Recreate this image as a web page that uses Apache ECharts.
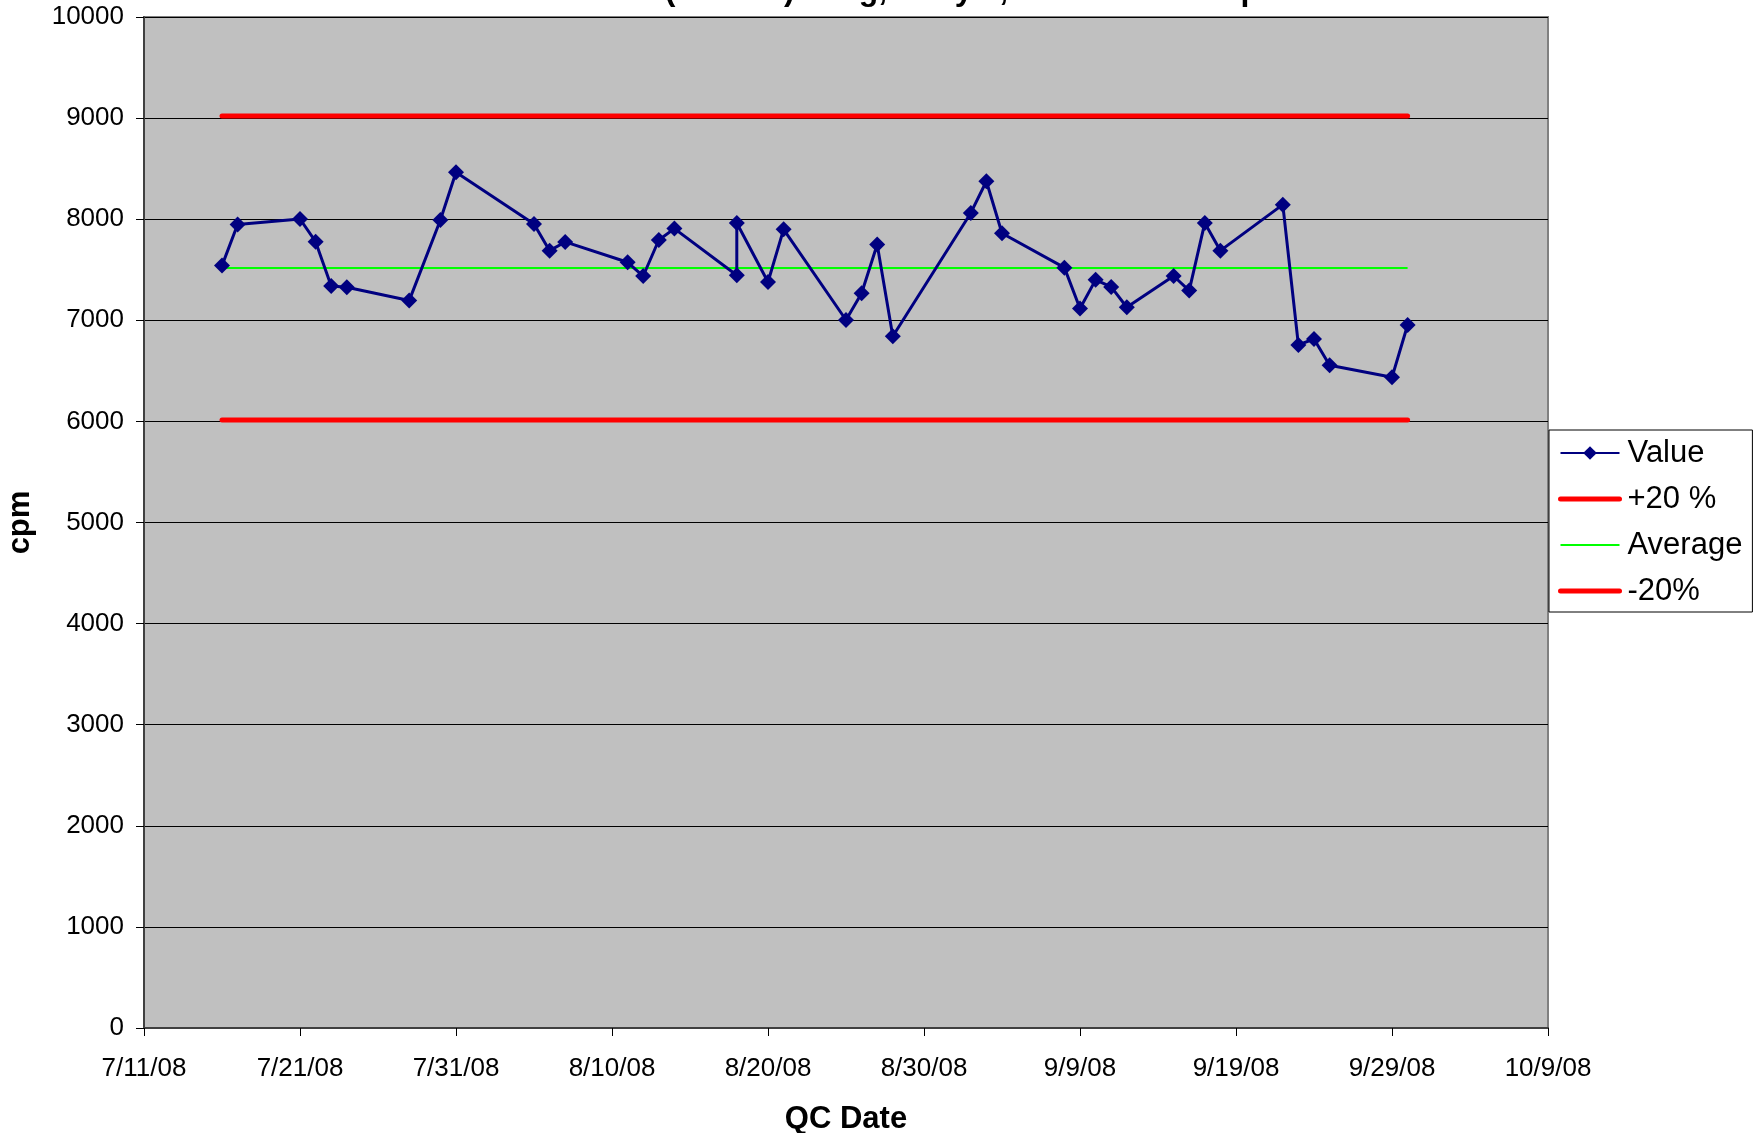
<!DOCTYPE html>
<html>
<head>
<meta charset="utf-8">
<script src="https://cdn.jsdelivr.net/npm/echarts@6/dist/echarts.min.js"></script>
<style>
html,body{margin:0;padding:0;background:#fff;}
#chart{width:1761px;height:1133px;}
</style>
</head>
<body>
<div id="chart"></div>
<script>
// ---- data ----
const chartTitle = 'Cs-137 (Source) 5 mg, Daily 1, Well Counter cpm';
const qcDates = ['7/16/08','7/17/08','7/21/08','7/22/08','7/23/08','7/24/08','7/28/08','7/30/08','7/31/08',
  '8/5/08','8/6/08','8/7/08','8/11/08','8/12/08','8/13/08','8/14/08','8/18/08','8/18/08','8/20/08','8/21/08',
  '8/25/08','8/26/08','8/27/08','8/28/08','9/2/08','9/3/08','9/4/08','9/8/08','9/9/08','9/10/08','9/11/08',
  '9/12/08','9/15/08','9/16/08','9/17/08','9/18/08','9/22/08','9/23/08','9/24/08','9/25/08','9/29/08','9/30/08'];
const values = [7541,7947,8002,7778,7339,7326,7195,7992,8464,
  7953,7689,7775,7574,7438,7794,7907,7445,7963,7379,7900,
  7003,7267,7749,6842,8062,8375,7861,7521,7116,7400,7330,
  7129,7438,7294,7963,7689,8144,6756,6815,6555,6436,6954];
const limitDates = ['7/16/08','9/30/08'];
const upperLimit = [9022, 9022];
const averageLine = [7518, 7518];
const lowerLimit = [6015, 6015];
const axisStartDate = '7/11/08';
const axisEndDate = '10/9/08';
const dateTickStepDays = 10;
const yMin = 0, yMax = 10000, yStep = 1000;

// ---- helpers ----
function toUTC(s){ const p = s.split('/').map(Number); return Date.UTC(2000 + p[2], p[0] - 1, p[1]); }
const baseUTC = toUTC(axisStartDate);
function dayIndex(s){ return Math.round((toUTC(s) - baseUTC) / 86400000); }
function dayLabel(v){
  const d = new Date(baseUTC + v * 86400000);
  return (d.getUTCMonth() + 1) + '/' + d.getUTCDate() + '/' + String(d.getUTCFullYear()).slice(2);
}
const FONT = '"Liberation Sans", Arial, sans-serif';

const valueData = qcDates.map((d, i) => [dayIndex(d), values[i]]);
const upperData = limitDates.map((d, i) => [dayIndex(d), upperLimit[i]]);
const avgData = limitDates.map((d, i) => [dayIndex(d), averageLine[i]]);
const lowerData = limitDates.map((d, i) => [dayIndex(d), lowerLimit[i]]);

const chart = echarts.init(document.getElementById('chart'), null, {renderer: 'canvas'});
chart.setOption({
  animation: false,
  backgroundColor: '#ffffff',
  title: {
    text: chartTitle,
    left: 546, top: -30,
    textStyle: {fontFamily: FONT, fontSize: 32, fontWeight: 'bold', color: '#000'}
  },
  grid: {
    left: 144, right: 213, top: 17, bottom: 105,
    outerBoundsMode: 'none', containLabel: false,
    show: true, backgroundColor: '#C0C0C0', borderColor: '#808080', borderWidth: 2
  },
  legend: {
    orient: 'vertical', left: 1549, top: 430,
    backgroundColor: '#ffffff', borderColor: '#000', borderWidth: 1,
    padding: [6, 10, 4, 9],
    itemWidth: 59, itemHeight: 17, itemGap: 12,
    textStyle: {fontFamily: FONT, fontSize: 31, color: '#000', lineHeight: 34, padding: [0, 0, 0, 3]},
    data: [
      {name: 'Value'},
      {name: '+20 %', itemStyle: {opacity: 0}, lineStyle: {width: 5}},
      {name: 'Average', itemStyle: {opacity: 0}, lineStyle: {width: 2}},
      {name: '-20%', itemStyle: {opacity: 0}, lineStyle: {width: 5}}
    ]
  },
  xAxis: {
    type: 'value',
    min: dayIndex(axisStartDate), max: dayIndex(axisEndDate), interval: dateTickStepDays,
    name: 'QC Date', nameLocation: 'middle', nameGap: 76,
    nameTextStyle: {fontFamily: FONT, fontSize: 31, fontWeight: 'bold', color: '#000'},
    axisLine: {show: true, onZero: false, lineStyle: {color: '#404040', width: 2}},
    axisTick: {show: true, length: 8, lineStyle: {color: '#000', width: 1}},
    axisLabel: {margin: 28, fontFamily: FONT, fontSize: 26, color: '#000', formatter: dayLabel, showMaxLabel: true, showMinLabel: true},
    splitLine: {show: false}
  },
  yAxis: {
    type: 'value', min: yMin, max: yMax, interval: yStep,
    name: 'cpm', nameLocation: 'middle', nameGap: 108, nameRotate: 90,
    nameTextStyle: {fontFamily: FONT, fontSize: 31, fontWeight: 'bold', color: '#000'},
    axisLine: {show: true, lineStyle: {color: '#404040', width: 2}},
    axisTick: {show: true, length: 8, lineStyle: {color: '#000', width: 1}},
    axisLabel: {margin: 20, fontFamily: FONT, fontSize: 26, color: '#000', formatter: v => String(v)},
    splitLine: {show: true, lineStyle: {color: '#000', width: 1}}
  },
  series: [
    {name: 'Value', type: 'line', data: valueData, z: 5,
     symbol: 'diamond', symbolSize: 16,
     lineStyle: {color: '#000080', width: 3}, itemStyle: {color: '#000080'}},
    {name: '+20 %', type: 'line', data: upperData, z: 3, symbol: 'none',
     lineStyle: {color: '#FF0000', width: 5, cap: 'round'}, itemStyle: {color: '#FF0000'}},
    {name: 'Average', type: 'line', data: avgData, z: 3, symbol: 'none',
     lineStyle: {color: '#00FF00', width: 2}, itemStyle: {color: '#00FF00'}},
    {name: '-20%', type: 'line', data: lowerData, z: 3, symbol: 'none',
     lineStyle: {color: '#FF0000', width: 5, cap: 'round'}, itemStyle: {color: '#FF0000'}}
  ]
});
</script>
</body>
</html>
